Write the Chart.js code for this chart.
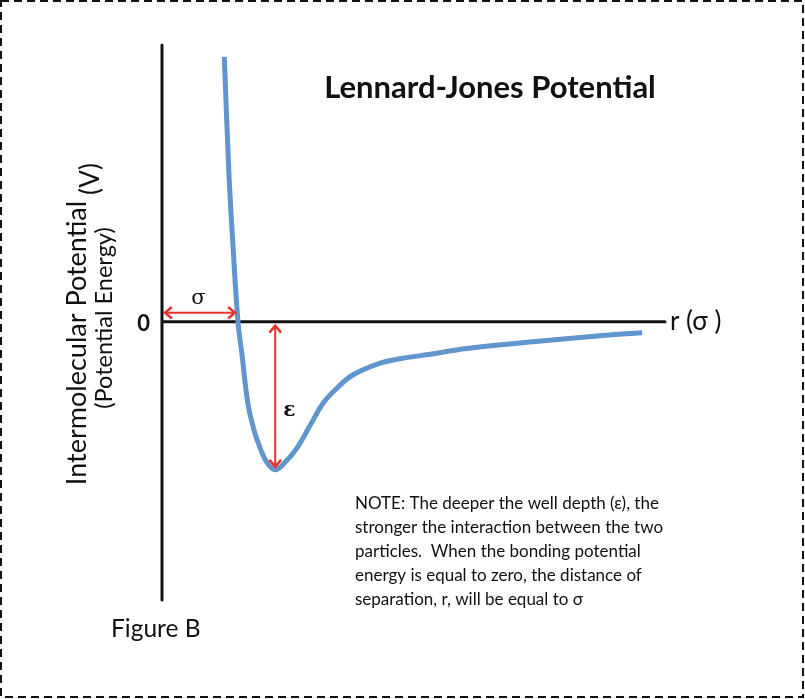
<!DOCTYPE html>
<html>
<head>
<meta charset="utf-8">
<title>Lennard-Jones Potential</title>
<script src="https://cdn.jsdelivr.net/npm/chart.js@4/dist/chart.umd.min.js"></script>
<style>
  html, body { margin: 0; padding: 0; background: #fff; }
  canvas { display: block; }
</style>
</head>
<body>
<canvas id="ljChart" width="805" height="699"></canvas>
<script>
// separation r, in units of sigma
const rValues = [0.82, 0.88, 0.93, 1.0, 1.05, 1.13, 1.21, 1.29, 1.38, 1.49, 1.62, 1.78, 1.95, 2.12, 2.32, 2.51, 2.87, 3.13, 3.53, 4.01, 4.88, 5.76, 6.32];
// potential V, in units of epsilon
const vValues = [1.79, 1.01, 0.55, 0.0, -0.21, -0.55, -0.73, -0.85, -0.95, -1.0, -0.95, -0.85, -0.70, -0.55, -0.44, -0.36, -0.28, -0.25, -0.22, -0.18, -0.135, -0.095, -0.074];

const sigma = 1.0;
const wellR = 1.49;
const wellDepth = -1.0;

const titleText = 'Lennard-Jones Potential';
const yTitle = ['Intermolecular Potential', '(Potential Energy)', '(V)'];
const noteLines = [
  'NOTE: The deeper the well depth (\u03b5), the',
  'stronger the interaction between the two',
  'particles.  When the bonding potential',
  'energy is equal to zero, the distance of',
  'separation, r, will be equal to \u03c3'
];

const points = rValues.map((r, i) => ({ x: r, y: vValues[i] }));
const FONT = 'Lato, "Open Sans", sans-serif';
const RED = '#e8322b';

function arrowHead(ctx, x, y, angle) {
  const len = 9;
  ctx.beginPath();
  ctx.moveTo(x + len * Math.cos(angle + 0.7), y + len * Math.sin(angle + 0.7));
  ctx.lineTo(x, y);
  ctx.lineTo(x + len * Math.cos(angle - 0.7), y + len * Math.sin(angle - 0.7));
  ctx.stroke();
}

const decorations = {
  id: 'decorations',
  beforeDatasetsDraw(chart) {
    const ctx = chart.ctx;
    const xs = chart.scales.x, ys = chart.scales.y;
    const x0 = xs.getPixelForValue(0), y0 = ys.getPixelForValue(0);
    ctx.save();
    // axes
    ctx.strokeStyle = '#111';
    ctx.lineWidth = 3;
    ctx.lineCap = 'round';
    ctx.beginPath();
    ctx.moveTo(x0, chart.chartArea.top);
    ctx.lineTo(x0, chart.chartArea.bottom);
    ctx.moveTo(x0, y0);
    ctx.lineTo(chart.chartArea.right, y0);
    ctx.stroke();
    ctx.restore();
  },
  afterDatasetsDraw(chart) {
    const ctx = chart.ctx;
    const xs = chart.scales.x, ys = chart.scales.y;
    const x0 = xs.getPixelForValue(0), y0 = ys.getPixelForValue(0);
    ctx.save();

    // sigma arrow
    ctx.strokeStyle = RED;
    ctx.lineWidth = 2;
    const xs1 = xs.getPixelForValue(sigma) - 3;
    const ya = y0 - 9;
    ctx.beginPath();
    ctx.moveTo(x0 + 3, ya);
    ctx.lineTo(xs1, ya);
    ctx.stroke();
    ctx.lineWidth = 2.5;
    arrowHead(ctx, x0 + 3, ya, 0);
    arrowHead(ctx, xs1, ya, Math.PI);

    // epsilon arrow
    const xe = xs.getPixelForValue(wellR);
    const yb = ys.getPixelForValue(wellDepth) - 3;
    ctx.lineWidth = 2;
    ctx.beginPath();
    ctx.moveTo(xe, y0 + 4);
    ctx.lineTo(xe, yb);
    ctx.stroke();
    ctx.lineWidth = 2.5;
    arrowHead(ctx, xe, y0 + 4, Math.PI / 2);
    arrowHead(ctx, xe, yb, -Math.PI / 2);

    // texts
    ctx.fillStyle = '#111';
    ctx.textBaseline = 'middle';
    ctx.textAlign = 'center';
    ctx.font = '21px "DejaVu Serif", serif';
    ctx.fillText('\u03c3', (x0 + xs1) / 2, y0 - 23);
    ctx.font = 'bold 20px "DejaVu Serif", serif';
    ctx.fillText('\u03b5', xe + 14, ys.getPixelForValue(-0.6));

    ctx.font = 'bold 31px ' + FONT;
    ctx.fillText(titleText, 490, 88);

    ctx.font = 'bold 22px ' + FONT;
    ctx.textAlign = 'right';
    ctx.fillText('0', x0 - 12, y0 + 2);

    ctx.textAlign = 'left';
    ctx.font = '26px ' + FONT;
    ctx.fillText('r (\u03c3 )', chart.chartArea.right + 5, y0);

    ctx.font = '24.5px ' + FONT;
    ctx.fillText('Figure B', 111, 629);

    ctx.font = '17px ' + FONT;
    noteLines.forEach((line, i) => ctx.fillText(line, 355, 504 + i * 24));

    // rotated y title
    ctx.save();
    ctx.translate(77, 343);
    ctx.rotate(-Math.PI / 2);
    ctx.textAlign = 'center';
    ctx.font = '27px ' + FONT;
    ctx.fillText(yTitle[0], 0, 0);
    ctx.font = '23.5px ' + FONT;
    ctx.fillText(yTitle[1], 25, 27);
    ctx.font = '26px ' + FONT;
    ctx.fillText(yTitle[2], 164, 14);
    ctx.restore();

    // dashed frame
    ctx.strokeStyle = '#111';
    ctx.lineWidth = 2;
    ctx.setLineDash([8, 5]);
    ctx.strokeRect(1, 1, 802, 696);
    ctx.restore();
  }
};

new Chart(document.getElementById('ljChart'), {
  type: 'line',
  data: {
    datasets: [{
      label: 'V(r)',
      data: points,
      borderColor: '#6096cd',
      borderWidth: 5,
      pointRadius: 0,
      tension: 0.4,
      fill: false
    }]
  },
  options: {
    responsive: false,
    animation: false,
    devicePixelRatio: 1,
    layout: { padding: { left: 162, right: 140, top: 45, bottom: 99 } },
    plugins: {
      legend: { display: false },
      title: { display: false },
      tooltip: { enabled: false }
    },
    scales: {
      x: { type: 'linear', min: 0, max: 6.62, display: false },
      y: { type: 'linear', min: -1.88, max: 1.87, display: false }
    }
  },
  plugins: [decorations]
});
</script>
</body>
</html>
